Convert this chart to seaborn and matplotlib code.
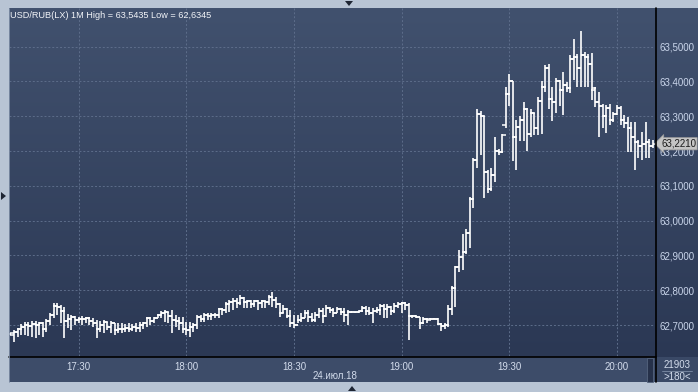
import numpy as np
import pandas as pd
import matplotlib
matplotlib.use("Agg")
import matplotlib.pyplot as plt
import seaborn as sns
from matplotlib.lines import Line2D
from matplotlib.patches import Rectangle, Polygon

# ---------------- data ----------------
title_text = "USD/RUB(LX) 1M High = 63,5435 Low = 62,6345"
start_time = "2018-07-24 17:11"
opens = [
62.674, 62.672, 62.680, 62.688, 62.695, 62.700, 62.698, 62.702, 62.700, 62.705,
62.690, 62.712, 62.728, 62.755, 62.752, 62.740, 62.712, 62.718, 62.722, 62.715,
62.718, 62.716, 62.720, 62.712, 62.706, 62.690, 62.700, 62.708, 62.694, 62.705,
62.686, 62.690, 62.688, 62.692, 62.690, 62.695, 62.692, 62.700, 62.705, 62.720,
62.712, 62.720, 62.728, 62.735, 62.738, 62.725, 62.715, 62.712, 62.705, 62.690,
62.685, 62.695, 62.700, 62.722, 62.718, 62.728, 62.726, 62.730, 62.728, 62.745,
62.742, 62.760, 62.765, 62.770, 62.762, 62.778, 62.765, 62.768, 62.760, 62.768,
62.762, 62.768, 62.765, 62.780, 62.772, 62.760, 62.735, 62.745, 62.725, 62.705,
62.700, 62.715, 62.720, 62.735, 62.722, 62.715, 62.728, 62.740, 62.725, 62.750,
62.742, 62.735, 62.745, 62.738, 62.730, 62.737, 62.737, 62.737, 62.739, 62.750,
62.740, 62.735, 62.740, 62.742, 62.755, 62.745, 62.752, 62.740, 62.755, 62.760,
62.762, 62.758, 62.725, 62.727, 62.722, 62.705, 62.718, 62.718, 62.718, 62.718,
62.702, 62.698, 62.700, 62.745, 62.805, 62.868, 62.895, 62.910, 62.965, 63.062,
63.175, 63.305, 63.300, 63.140, 63.090, 63.130, 63.200, 63.198, 63.275, 63.365,
63.400, 63.240, 63.270, 63.290, 63.320, 63.250, 63.310, 63.265, 63.345, 63.385,
63.440, 63.350, 63.340, 63.400, 63.375, 63.390, 63.380, 63.465, 63.470, 63.440,
63.475, 63.470, 63.450, 63.375, 63.340, 63.330, 63.300, 63.325, 63.290, 63.305,
63.325, 63.290, 63.280, 63.265, 63.240, 63.225, 63.215, 63.220, 63.225, 63.215,
]
highs = [
62.678, 62.686, 62.692, 62.702, 62.708, 62.710, 62.712, 62.712, 62.710, 62.708,
62.716, 62.735, 62.762, 62.762, 62.757, 62.753, 62.731, 62.729, 62.726, 62.724,
62.726, 62.724, 62.722, 62.719, 62.714, 62.712, 62.714, 62.710, 62.712, 62.705,
62.705, 62.705, 62.703, 62.705, 62.702, 62.705, 62.708, 62.710, 62.724, 62.724,
62.724, 62.731, 62.740, 62.743, 62.738, 62.743, 62.729, 62.724, 62.724, 62.710,
62.710, 62.705, 62.729, 62.729, 62.734, 62.734, 62.734, 62.734, 62.750, 62.750,
62.765, 62.772, 62.777, 62.777, 62.786, 62.781, 62.772, 62.772, 62.772, 62.772,
62.772, 62.769, 62.786, 62.794, 62.781, 62.762, 62.758, 62.748, 62.743, 62.729,
62.729, 62.734, 62.743, 62.743, 62.734, 62.738, 62.748, 62.748, 62.758, 62.753,
62.748, 62.753, 62.750, 62.748, 62.743, 62.738, 62.738, 62.740, 62.756, 62.756,
62.753, 62.748, 62.751, 62.760, 62.760, 62.760, 62.755, 62.764, 62.767, 62.767,
62.767, 62.762, 62.729, 62.729, 62.722, 62.722, 62.719, 62.719, 62.719, 62.719,
62.705, 62.705, 62.758, 62.812, 62.870, 62.916, 62.963, 62.975, 63.069, 63.179,
63.320, 63.315, 63.300, 63.145, 63.150, 63.240, 63.205, 63.250, 63.385, 63.420,
63.400, 63.290, 63.300, 63.340, 63.325, 63.320, 63.310, 63.355, 63.400, 63.447,
63.450, 63.385, 63.410, 63.404, 63.428, 63.399, 63.476, 63.522, 63.478, 63.5435,
63.485, 63.478, 63.481, 63.385, 63.370, 63.334, 63.332, 63.334, 63.313, 63.332,
63.330, 63.303, 63.299, 63.284, 63.284, 63.231, 63.255, 63.284, 63.236, 63.231,
]
lows = [
62.671, 62.650, 62.667, 62.671, 62.671, 62.668, 62.666, 62.662, 62.671, 62.667,
62.681, 62.700, 62.719, 62.729, 62.705, 62.662, 62.691, 62.686, 62.700, 62.705,
62.700, 62.705, 62.700, 62.695, 62.662, 62.681, 62.676, 62.686, 62.676, 62.671,
62.676, 62.676, 62.681, 62.681, 62.683, 62.681, 62.681, 62.690, 62.695, 62.700,
62.705, 62.719, 62.719, 62.710, 62.705, 62.676, 62.695, 62.686, 62.676, 62.671,
62.666, 62.681, 62.690, 62.708, 62.710, 62.714, 62.714, 62.719, 62.719, 62.729,
62.734, 62.738, 62.743, 62.748, 62.758, 62.748, 62.748, 62.748, 62.753, 62.743,
62.748, 62.748, 62.758, 62.753, 62.748, 62.724, 62.734, 62.719, 62.695, 62.692,
62.705, 62.710, 62.719, 62.710, 62.710, 62.710, 62.719, 62.705, 62.729, 62.734,
62.724, 62.734, 62.729, 62.710, 62.700, 62.736, 62.736, 62.736, 62.738, 62.729,
62.729, 62.705, 62.734, 62.729, 62.719, 62.719, 62.729, 62.734, 62.748, 62.734,
62.743, 62.657, 62.719, 62.719, 62.690, 62.703, 62.705, 62.717, 62.717, 62.700,
62.684, 62.690, 62.695, 62.729, 62.753, 62.853, 62.858, 62.905, 62.920, 63.035,
63.150, 63.190, 63.065, 63.080, 63.085, 63.110, 63.190, 63.195, 63.265, 63.330,
63.170, 63.145, 63.230, 63.230, 63.200, 63.240, 63.245, 63.245, 63.250, 63.370,
63.320, 63.285, 63.310, 63.330, 63.303, 63.370, 63.366, 63.404, 63.385, 63.385,
63.385, 63.385, 63.346, 63.327, 63.241, 63.265, 63.251, 63.275, 63.284, 63.303,
63.275, 63.265, 63.198, 63.198, 63.145, 63.179, 63.174, 63.179, 63.179, 63.208,
]
closes = [
62.676, 62.680, 62.688, 62.695, 62.700, 62.698, 62.702, 62.700, 62.705, 62.690,
62.712, 62.728, 62.755, 62.752, 62.740, 62.712, 62.718, 62.722, 62.715, 62.718,
62.716, 62.720, 62.712, 62.706, 62.690, 62.700, 62.708, 62.694, 62.705, 62.686,
62.690, 62.688, 62.692, 62.690, 62.695, 62.692, 62.700, 62.705, 62.720, 62.712,
62.720, 62.728, 62.735, 62.738, 62.725, 62.715, 62.712, 62.705, 62.690, 62.685,
62.695, 62.700, 62.722, 62.718, 62.728, 62.726, 62.730, 62.728, 62.745, 62.742,
62.760, 62.765, 62.770, 62.762, 62.778, 62.765, 62.768, 62.760, 62.768, 62.762,
62.768, 62.765, 62.780, 62.772, 62.760, 62.735, 62.745, 62.725, 62.705, 62.700,
62.715, 62.720, 62.735, 62.722, 62.715, 62.728, 62.740, 62.725, 62.750, 62.742,
62.735, 62.745, 62.738, 62.730, 62.737, 62.737, 62.737, 62.739, 62.750, 62.740,
62.735, 62.740, 62.742, 62.755, 62.745, 62.752, 62.740, 62.755, 62.760, 62.762,
62.758, 62.725, 62.727, 62.722, 62.705, 62.718, 62.715, 62.718, 62.718, 62.702,
62.698, 62.700, 62.745, 62.805, 62.868, 62.895, 62.910, 62.965, 63.062, 63.175,
63.305, 63.300, 63.140, 63.090, 63.130, 63.200, 63.198, 63.245, 63.365, 63.400,
63.240, 63.270, 63.290, 63.320, 63.250, 63.310, 63.265, 63.345, 63.385, 63.440,
63.350, 63.340, 63.400, 63.375, 63.390, 63.380, 63.465, 63.470, 63.440, 63.475,
63.470, 63.450, 63.380, 63.340, 63.330, 63.300, 63.325, 63.290, 63.305, 63.325,
63.290, 63.280, 63.265, 63.240, 63.225, 63.215, 63.220, 63.225, 63.215, 63.221,
]
x_tick_labels = ["17:30", "18:00", "18:30", "19:00", "19:30", "20:00"]
y_ticks = [62.7, 62.8, 62.9, 63.0, 63.1, 63.2, 63.3, 63.4, 63.5]
date_label = "24.июл.18"
last_price_label = "63,2210"
bar_count_label = "21903"
visible_label = ">180<"

# ---------------- frame ----------------
times = pd.date_range(start_time, periods=len(opens), freq="min")
df = pd.DataFrame({"t": times, "open": opens, "high": highs,
                   "low": lows, "close": closes})
df["i"] = np.arange(len(df))
tick_idx = [int(df.index[df["t"].dt.strftime("%H:%M") == s][0]) for s in x_tick_labels]

sns.set_theme(style="dark")
plt.rcParams["font.family"] = ["Liberation Sans", "DejaVu Sans"]

W, H = 698, 392
fig = plt.figure(figsize=(W / 100, H / 100), dpi=100)
fig.patch.set_facecolor("#b8c4d4")

def fx(px):
    return px / W

def fy(py):
    return 1 - py / H

# gradient background (plot + right scale)
bg = fig.add_axes([fx(9), fy(357), fx(698 - 9), (357 - 8) / H])
bg.set_zorder(0)
bg.set_axis_off()
top = np.array([0x41, 0x51, 0x6e]) / 255
bot = np.array([0x2b, 0x38, 0x54]) / 255
grad = np.linspace(0, 1, 256)[:, None, None]
img = top * (1 - grad) + bot * grad
bg.imshow(np.repeat(img, 2, axis=1), aspect="auto", extent=[0, 1, 0, 1])

# bottom time-scale panel
fig.add_artist(Rectangle((fx(9), fy(382)), fx(698 - 9), (382 - 357) / H,
                         transform=fig.transFigure, fc="#3d4c69", ec="none", zorder=1))
fig.add_artist(Rectangle((fx(656), fy(382)), fx(42), (382 - 357) / H,
                         transform=fig.transFigure, fc="#3a4966", ec="none", zorder=1))
# scrollbar stub
fig.add_artist(Rectangle((fx(647), fy(382)), fx(6), (382 - 358) / H,
                         transform=fig.transFigure, fc="#26314a", ec="#55657f", lw=0.6, zorder=2))

# main axes
ax = fig.add_axes([fx(9), fy(356), fx(646), (356 - 8) / H])
ax.set_zorder(3)
ax.set_facecolor("none")
ax.vlines(df["i"], df["low"], df["high"], color="white", lw=1.2, zorder=3)
sns.scatterplot(data=df, x="i", y="open", marker=0, color="white", s=9,
                linewidth=1.1, ax=ax, zorder=3, legend=False)
sns.scatterplot(data=df, x="i", y="close", marker=1, color="white", s=9,
                linewidth=1.1, ax=ax, zorder=3, legend=False)
for coll in ax.collections[1:]:
    coll.set_edgecolor("white")
    coll.set_facecolor("white")

ax.set_xlim(-0.4, 179.6)
ax.set_ylim(62.611, 63.611)
ax.set_xlabel("")
ax.set_ylabel("")
ax.set_xticks(tick_idx)
ax.set_xticklabels(x_tick_labels, color="#d3dcec", fontsize=7)
ax.set_yticks(y_ticks)
ax.set_yticklabels([f"{v:.4f}".replace(".", ",") for v in y_ticks],
                   color="#c9d5ea", fontsize=7)
ax.yaxis.tick_right()
ax.tick_params(axis="both", length=0)
ax.tick_params(axis="x", pad=4.5)
ax.tick_params(axis="y", pad=3.0)
ax.grid(True, color="#5d6d8a", linestyle=(0, (2, 2)), linewidth=0.7)
for s in ax.spines.values():
    s.set_visible(False)

# separator lines
fig.add_artist(Line2D([fx(655.5), fx(655.5)], [fy(8), fy(382)], color="black",
                      lw=1.2, transform=fig.transFigure, zorder=5))
fig.add_artist(Line2D([fx(9), fx(655.5)], [fy(357), fy(357)], color="black",
                      lw=1.2, transform=fig.transFigure, zorder=5))
fig.add_artist(Line2D([fx(9), fx(9)], [fy(8), fy(382)], color="#8090a8",
                      lw=0.6, transform=fig.transFigure, zorder=5))

# title
fig.text(fx(10), fy(15), title_text, color="#f2f4f8", fontsize=6.6, va="center", ha="left",
         zorder=6)
# date
fig.text(fx(335), fy(376), date_label, color="#d3dcec", fontsize=7, va="center", ha="center",
         zorder=6)
# right-bottom box
fig.text(fx(677), fy(365), bar_count_label, color="#d3dcec", fontsize=7, va="center",
         ha="center", zorder=6)
fig.add_artist(Line2D([fx(662), fx(692)], [fy(371), fy(371)], color="#7d8ca6",
                      lw=0.6, transform=fig.transFigure, zorder=5))
fig.text(fx(677), fy(377.5), visible_label, color="#d3dcec", fontsize=7, va="center",
         ha="center", zorder=6)

# last price label
ax.text(1.0 + 6 / 646, closes[-1], last_price_label, transform=ax.get_yaxis_transform(),
        fontsize=7, color="#1a1a1a", va="center", ha="left", zorder=6, clip_on=False,
        bbox=dict(boxstyle="larrow,pad=0.12", fc="#c4c4c4", ec="#9a9a9a", lw=0.5))

# small triangles on frame
def tri(pts):
    fig.add_artist(Polygon([(fx(a), fy(b)) for a, b in pts], closed=True,
                           transform=fig.transFigure, fc="#1e2533", ec="none", zorder=6))

tri([(345, 1), (353, 1), (349, 6)])
tri([(1, 192), (1, 200), (6, 196)])
tri([(348, 391), (356, 391), (352, 386)])

fig.savefig("out.png", dpi=100, facecolor=fig.get_facecolor())
